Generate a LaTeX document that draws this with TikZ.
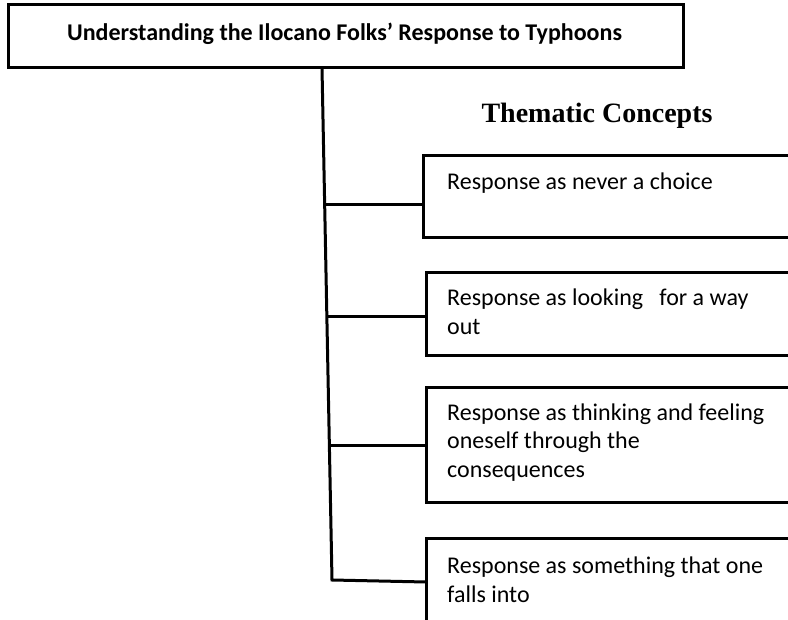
\documentclass[tikz,border=0pt]{standalone}
\usepackage{fontspec}
\setmainfont{Carlito}
\newfontfamily\timesbf{Liberation Serif}
\begin{document}
\begin{tikzpicture}[x=1pt,y=-1pt,
  frame/.style={draw=black,line width=3pt,line join=miter},
  conn/.style={draw=black,line width=3pt},
  boxtext/.style={anchor=base west,inner sep=0pt,align=left,font=\fontsize{24}{29}\selectfont},
]
\useasboundingbox (0,0) rectangle (788,620);
% title box
\draw[frame] (8,5) rectangle (683,68);
\node[inner sep=0pt,anchor=base,font=\fontsize{24}{28}\selectfont\bfseries] (title) at (344.5,41) {Understanding the Ilocano Folks’ Response to Typhoons};
\coordinate (ttop) at (322,68);
\coordinate (tbot) at (332,580);
% heading
\node[inner sep=0pt,anchor=base,font=\timesbf\fontsize{28}{33}\selectfont\bfseries] (head) at (597,123) {Thematic Concepts};
% boxes
\draw[frame] (830,156) -- (423,156) -- (423,238) -- (830,238);
\draw[frame] (830,273) -- (426,273) -- (426,356) -- (830,356);
\draw[frame] (830,388) -- (426,388) -- (426,503) -- (830,503);
\draw[frame] (830,538) -- (426,538) -- (426,640);
\coordinate (b1) at (423,205);
\coordinate (b2) at (426,317);
\coordinate (b3) at (426,446);
\coordinate (b4) at (426,582);
\coordinate (j1) at (324.7,205);
\coordinate (j2) at (326.9,317);
\coordinate (j3) at (329.4,446);
% connectors
\draw[conn,line cap=rect] (ttop) -- (tbot) -- (b4);
\draw[conn] (j1) -- (b1);
\draw[conn] (j2) -- (b2);
\draw[conn] (j3) -- (b3);
% texts (base anchor = last line)
\node[boxtext] (t1) at (447,190) {Response as never a choice};
\node[boxtext] (t2) at (447,335) {Response as looking \ \ for a way\\out};
\node[boxtext] (t3) at (447,478) {Response as thinking and feeling\\oneself through the\\consequences};
\node[boxtext] (t4) at (447,602) {Response as something that one\\falls into};
\end{tikzpicture}
\end{document}
